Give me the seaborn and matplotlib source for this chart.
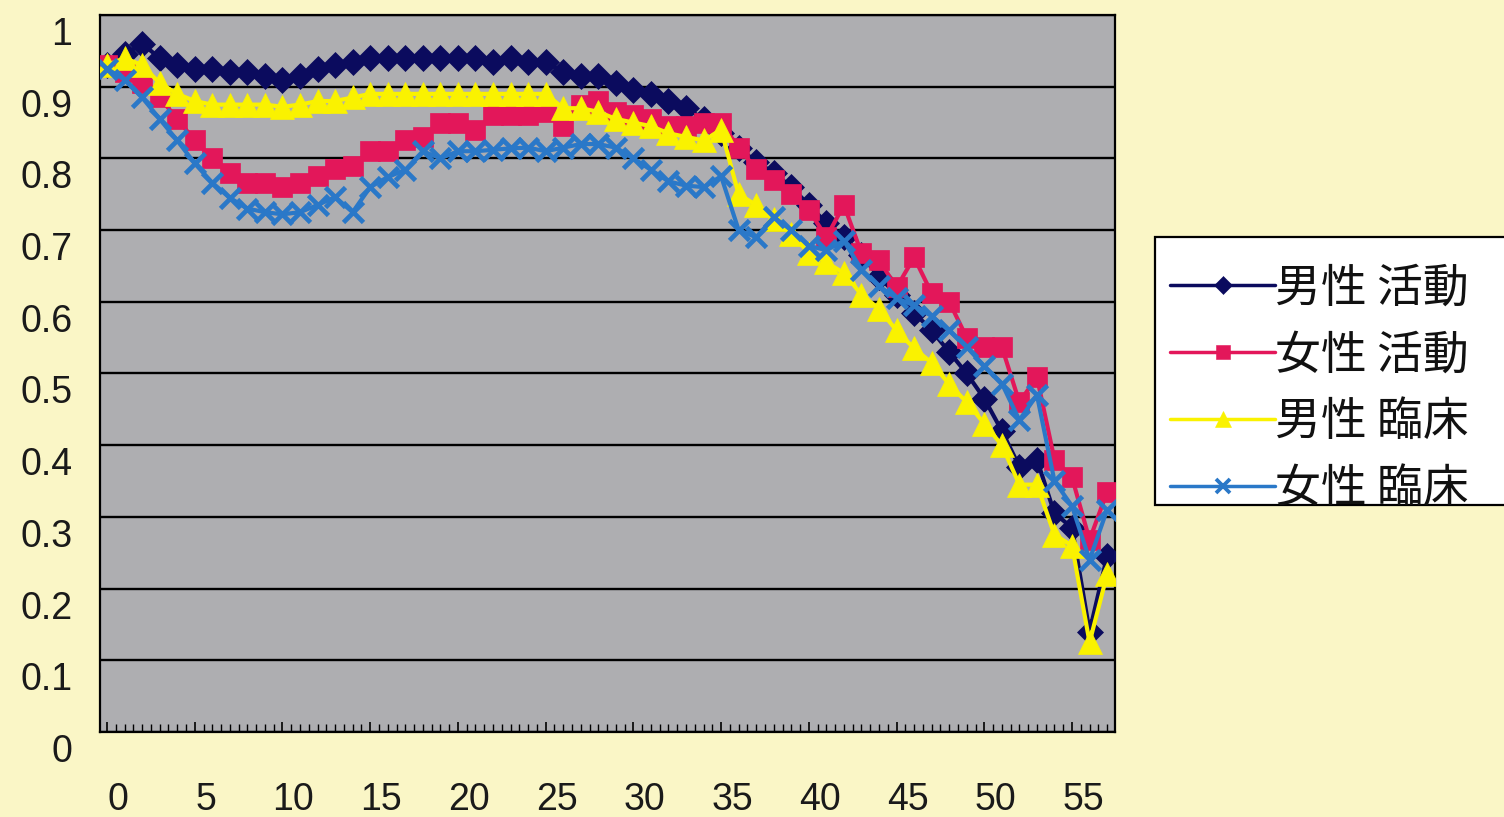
import numpy as np
import pandas as pd
import matplotlib
matplotlib.use("Agg")
import matplotlib.pyplot as plt
import matplotlib.transforms as mtransforms
from matplotlib.lines import Line2D
from matplotlib.patches import Rectangle
from matplotlib.ticker import MultipleLocator, FixedLocator
import seaborn as sns

# ---------------- data ----------------
ages = list(range(58))

male_activity = [0.93, 0.945, 0.96, 0.94, 0.93, 0.925, 0.925, 0.92, 0.92, 0.915,
                 0.91, 0.915, 0.925, 0.93, 0.935, 0.94, 0.94, 0.94, 0.94, 0.94,
                 0.94, 0.94, 0.935, 0.94, 0.935, 0.935, 0.92, 0.915, 0.915, 0.905,
                 0.895, 0.89, 0.88, 0.87, 0.855, 0.835, 0.815, 0.795, 0.78, 0.76,
                 0.735, 0.71, 0.69, 0.665, 0.635, 0.61, 0.585, 0.56, 0.53, 0.50,
                 0.465, 0.42, 0.37, 0.38, 0.305, 0.285, 0.14, 0.245]

female_activity = [0.93, 0.92, 0.905, 0.885, 0.855, 0.825, 0.80, 0.78, 0.765, 0.765,
                   0.76, 0.765, 0.775, 0.785, 0.79, 0.81, 0.81, 0.825, 0.83, 0.85,
                   0.85, 0.84, 0.86, 0.86, 0.86, 0.865, 0.845, 0.875, 0.88, 0.865,
                   0.86, 0.855, 0.845, 0.845, 0.85, 0.85, 0.815, 0.785, 0.77, 0.75,
                   0.728, 0.69, 0.735, 0.668, 0.658, 0.62, 0.662, 0.612, 0.60, 0.55,
                   0.537, 0.537, 0.46, 0.495, 0.38, 0.355, 0.268, 0.335]

male_clinical = [0.93, 0.94, 0.93, 0.905, 0.89, 0.88, 0.875, 0.875, 0.875, 0.875,
                 0.872, 0.875, 0.88, 0.88, 0.885, 0.89, 0.89, 0.89, 0.89, 0.89,
                 0.89, 0.89, 0.89, 0.89, 0.89, 0.89, 0.87, 0.87, 0.865, 0.855,
                 0.85, 0.845, 0.835, 0.83, 0.825, 0.84, 0.75, 0.735, 0.715, 0.695,
                 0.668, 0.655, 0.64, 0.61, 0.59, 0.56, 0.535, 0.515, 0.485, 0.46,
                 0.43, 0.40, 0.345, 0.345, 0.275, 0.26, 0.125, 0.22]

female_clinical = [0.925, 0.91, 0.885, 0.855, 0.825, 0.793, 0.766, 0.745, 0.73, 0.725,
                   0.722, 0.725, 0.735, 0.746, 0.725, 0.76, 0.774, 0.784, 0.81, 0.80,
                   0.81, 0.81, 0.812, 0.814, 0.815, 0.81, 0.815, 0.82, 0.82, 0.815,
                   0.80, 0.784, 0.768, 0.762, 0.76, 0.775, 0.70, 0.69, 0.718, 0.70,
                   0.678, 0.672, 0.685, 0.645, 0.622, 0.605, 0.595, 0.58, 0.56, 0.537,
                   0.51, 0.486, 0.435, 0.47, 0.35, 0.315, 0.24, 0.31]

series_names = ["男性 活動", "女性 活動", "男性 臨床", "女性 臨床"]
x_tick_values = [0, 5, 10, 15, 20, 25, 30, 35, 40, 45, 50, 55]
x_tick_labels = ["0", "5", "10", "15", "20", "25", "30", "35", "40", "45", "50", "55"]
y_tick_values = [0, 0.1, 0.2, 0.3, 0.4, 0.5, 0.6, 0.7, 0.8, 0.9, 1.0]
y_tick_labels = ["0", "0.1", "0.2", "0.3", "0.4", "0.5", "0.6", "0.7", "0.8", "0.9", "1"]

# ---------------- style ----------------
sns.set_theme(style="white")
plt.rcParams['font.family'] = ['Liberation Sans', 'Noto Sans CJK JP', 'DejaVu Sans']

W, H = 1504, 817
fig = plt.figure(figsize=(W / 100, H / 100), dpi=100, facecolor='#FAF6C6')
ax = fig.add_axes([100 / W, 1 - 732 / H, 1015 / W, 717 / H])
ax.set_facecolor('#AEAEB1')

styles = [
    dict(color='#0B0B5E', marker='D', markersize=13, mew=0.5),
    dict(color='#E3175A', marker='s', markersize=14, mew=0.5),
    dict(color='#FAF200', marker='^', markersize=17, mew=0.5),
    dict(color='#2A78C8', marker='x', markersize=15, mew=3.4),
]
all_series = [male_activity, female_activity, male_clinical, female_clinical]

for k, (name, vals, st) in enumerate(zip(series_names, all_series, styles)):
    df = pd.DataFrame({"age": ages, "value": vals})
    sns.lineplot(data=df, x="age", y="value", ax=ax, color=st['color'],
                 marker=st['marker'], markersize=st['markersize'],
                 markeredgewidth=st['mew'], markeredgecolor=st['color'],
                 linewidth=3, legend=False, zorder=3 + k)

ax.set_xlim(-0.4, 57.45)
ax.set_ylim(0, 1.0)
ax.set_xlabel("")
ax.set_ylabel("")

ax.yaxis.set_major_locator(FixedLocator(y_tick_values))
ax.set_yticklabels(y_tick_labels)
ax.xaxis.set_major_locator(FixedLocator(x_tick_values))
ax.set_xticklabels(x_tick_labels)
ax.xaxis.set_minor_locator(MultipleLocator(0.5))

ax.yaxis.grid(True, color='black', linewidth=1.7)
ax.xaxis.grid(False)
ax.set_axisbelow(True)

for sp in ax.spines.values():
    sp.set_color('black')
    sp.set_linewidth(1.6)
    sp.set_visible(True)

ax.tick_params(axis='y', which='both', length=0, pad=20, labelsize=27, labelcolor='#1a1a1a')
ax.tick_params(axis='x', which='major', direction='in', length=7, width=1.2,
               color='black', pad=36, labelsize=27, labelcolor='#1a1a1a', bottom=True)
ax.tick_params(axis='x', which='minor', direction='in', length=6, width=1.0,
               color='black', bottom=True)

# shift tick labels like the reference scan
dy = mtransforms.ScaledTranslation(0, -16 / 100, fig.dpi_scale_trans)
for lab in ax.get_yticklabels():
    lab.set_transform(lab.get_transform() + dy)
dx = mtransforms.ScaledTranslation(11 / 100, 0, fig.dpi_scale_trans)
for lab in ax.get_xticklabels():
    lab.set_transform(lab.get_transform() + dx)

# ---------------- legend ----------------
rect = Rectangle((1155 / W, 1 - 505 / H), (1520 - 1155) / W, 268 / H,
                 transform=fig.transFigure, facecolor='white', edgecolor='black',
                 linewidth=1.6, zorder=1)
fig.add_artist(rect)

handles = [Line2D([0], [0], color=st['color'], marker=st['marker'],
                  markersize=st['markersize'] * 0.7, markeredgewidth=st['mew'] * 0.8,
                  markeredgecolor=st['color'], linewidth=2.5) for st in styles]
leg = fig.legend(handles, series_names, loc='upper left',
                 bbox_to_anchor=(1170 / W, 1 - 264 / H), bbox_transform=fig.transFigure,
                 prop={'family': ['Noto Sans CJK JP', 'DejaVu Sans'], 'size': 33},
                 frameon=False, handlelength=2.3, handletextpad=0.0,
                 labelspacing=0.4, borderpad=0, borderaxespad=0)
leg.set_zorder(5)
for t in leg.get_texts():
    t.set_color('#111111')
    t.set_clip_path(rect)

fig.savefig("out.png", dpi=100, facecolor=fig.get_facecolor())
